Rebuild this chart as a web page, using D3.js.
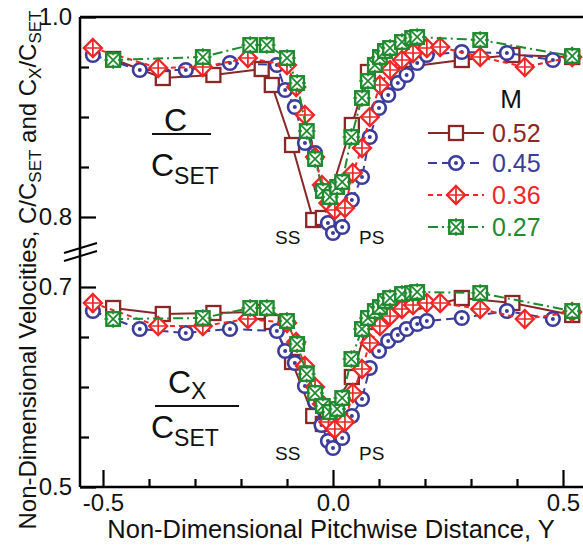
<!DOCTYPE html>
<html>
<head>
<meta charset="utf-8">
<script src="https://cdn.jsdelivr.net/npm/d3@7"></script>
<style>
  body { margin: 0; background: #fff; }
  svg { display: block; }
  text { font-family: "Liberation Sans", Arial, sans-serif; }
</style>
</head>
<body>
<svg id="chart" width="583" height="548"></svg>
<script>
// Pitchwise traverse: positions Y and velocity ratios C/C_SET (upper) and Cx/C_SET (lower)
const pitch052 = [-0.478, -0.37, -0.26, -0.155, -0.133, -0.089, -0.043, -0.022, 0.041, 0.076, 0.28, 0.39, 0.52];
const c052     = [0.958, 0.939, 0.942, 0.948, 0.932, 0.872, 0.797, 0.799, 0.892, 0.945, 0.957, 0.962, 0.96];
const cx052    = [0.679, 0.673, 0.674, 0.675, 0.665, 0.625, 0.571, 0.563, 0.61, 0.665, 0.689, 0.684, 0.672];

const pitch045 = [-0.522, -0.42, -0.32, -0.224, -0.122, -0.104, -0.083, -0.061, -0.039, -0.025, -0.011, 0.0, 0.02, 0.041, 0.063, 0.08, 0.1, 0.12, 0.141, 0.16, 0.183, 0.204, 0.28, 0.378, 0.478];
const c045     = [0.962, 0.947, 0.947, 0.954, 0.952, 0.927, 0.91, 0.874, 0.864, 0.83, 0.794, 0.784, 0.79, 0.817, 0.84, 0.88, 0.909, 0.922, 0.934, 0.942, 0.954, 0.962, 0.965, 0.964, 0.957];
const cx045    = [0.676, 0.658, 0.654, 0.658, 0.656, 0.636, 0.624, 0.601, 0.585, 0.562, 0.546, 0.539, 0.549, 0.571, 0.588, 0.619, 0.636, 0.646, 0.652, 0.658, 0.663, 0.666, 0.669, 0.676, 0.668];

const pitch036 = [-0.522, -0.38, -0.283, -0.185, -0.1, -0.08, -0.061, -0.039, -0.024, -0.01, 0.004, 0.026, 0.043, 0.063, 0.08, 0.102, 0.124, 0.15, 0.174, 0.204, 0.233, 0.32, 0.417, 0.52];
const c036     = [0.969, 0.949, 0.95, 0.959, 0.952, 0.93, 0.902, 0.86, 0.832, 0.814, 0.807, 0.809, 0.844, 0.869, 0.9, 0.932, 0.947, 0.957, 0.964, 0.969, 0.97, 0.96, 0.95, 0.96];
const cx036    = [0.684, 0.661, 0.661, 0.668, 0.664, 0.645, 0.621, 0.6, 0.583, 0.565, 0.558, 0.565, 0.594, 0.618, 0.644, 0.661, 0.671, 0.678, 0.682, 0.684, 0.684, 0.678, 0.668, 0.675];

const pitch027 = [-0.478, -0.283, -0.18, -0.144, -0.1, -0.078, -0.057, -0.039, -0.022, -0.007, 0.009, 0.02, 0.04, 0.063, 0.076, 0.091, 0.102, 0.113, 0.124, 0.15, 0.172, 0.183, 0.32, 0.52];
const c027     = [0.957, 0.96, 0.972, 0.972, 0.959, 0.934, 0.886, 0.858, 0.826, 0.82, 0.83, 0.835, 0.88, 0.919, 0.936, 0.952, 0.96, 0.966, 0.969, 0.975, 0.979, 0.98, 0.977, 0.961];
const cx027    = [0.668, 0.669, 0.679, 0.679, 0.666, 0.643, 0.613, 0.594, 0.581, 0.575, 0.578, 0.589, 0.628, 0.658, 0.669, 0.676, 0.68, 0.686, 0.689, 0.693, 0.694, 0.695, 0.694, 0.676];

const machLabels = ["0.52", "0.45", "0.36", "0.27"];

const xTicksMajor = [-0.5, 0.0, 0.5];
const xTicksMinor = [-0.4, -0.3, -0.2, -0.1, 0.1, 0.2, 0.3, 0.4];
const yTopMajor = [0.8, 1.0];
const yTopMinor = [0.85, 0.9, 0.95];
const yBotMajor = [0.5, 0.7];
const yBotMinor = [0.55, 0.6, 0.65];

const series = [
  { label: machLabels[0], xs: pitch052, c: c052, cx: cx052, color: "#8B2626", dash: null,        marker: "square"  },
  { label: machLabels[1], xs: pitch045, c: c045, cx: cx045, color: "#3B3B9C", dash: "9,5",       marker: "circle"  },
  { label: machLabels[2], xs: pitch036, c: c036, cx: cx036, color: "#EE2626", dash: "5,4",       marker: "diamond" },
  { label: machLabels[3], xs: pitch027, c: c027, cx: cx027, color: "#1F8A2E", dash: "10,4,2,4",  marker: "xbox"    }
];

const svg = d3.select("#chart");
const plotLeft = 80, plotRight = 586, plotTop = 17, plotBottom = 487;

const x = d3.scaleLinear().domain([-0.55, 0.55]).range([plotLeft, plotRight]);
const yTop = d3.scaleLinear().domain([0.78, 1.0]).range([237, plotTop]);
const yBot = d3.scaleLinear().domain([0.5, 0.72]).range([plotBottom, 267]);

// ---- markers ----
function drawMarker(g, type, color) {
  const sw = 2.3;
  if (type === "square") {
    g.append("rect").attr("x", -7).attr("y", -7).attr("width", 14).attr("height", 14)
      .attr("fill", "#fff").attr("stroke", color).attr("stroke-width", sw);
  } else if (type === "circle") {
    g.append("circle").attr("r", 6.8).attr("fill", "#fff").attr("stroke", color).attr("stroke-width", 2.6);
    g.append("circle").attr("r", 2).attr("fill", color);
  } else if (type === "diamond") {
    const s = 9;
    g.append("path").attr("d", `M0,${-s}L${s},0L0,${s}L${-s},0Z`)
      .attr("fill", "#fff").attr("stroke", color).attr("stroke-width", sw);
    g.append("path").attr("d", `M0,${-s}V${s}M${-s},0H${s}`)
      .attr("stroke", color).attr("stroke-width", 1.7);
  } else if (type === "xbox") {
    const s = 6.8;
    g.append("rect").attr("x", -s).attr("y", -s).attr("width", 2 * s).attr("height", 2 * s)
      .attr("fill", "#fff").attr("stroke", color).attr("stroke-width", sw);
    g.append("path").attr("d", `M${-s},${-s}L${s},${s}M${s},${-s}L${-s},${s}M0,${-s - 2}V${-s + 2}M0,${s - 2}V${s + 2}M${-s - 2},0H${-s + 2}M${s - 2},0H${s + 2}`)
      .attr("stroke", color).attr("stroke-width", 1.7);
  }
}

// ---- series (lines then markers, per panel) ----
const panels = [{ key: "c", y: yTop }, { key: "cx", y: yBot }];
series.forEach(s => {
  panels.forEach(p => {
    const pts = s.xs.map((v, i) => [v, s[p.key][i]]);
    const line = d3.line().x(d => x(d[0])).y(d => p.y(d[1]));
    svg.append("path").datum(pts).attr("d", line)
      .attr("fill", "none").attr("stroke", s.color).attr("stroke-width", 2)
      .attr("stroke-dasharray", s.dash);
    svg.append("g").selectAll("g").data(pts).join("g")
      .attr("transform", d => `translate(${x(d[0])},${p.y(d[1])})`)
      .each(function () { drawMarker(d3.select(this), s.marker, s.color); });
  });
});

// ---- axes ----
const fmt = d => d.toFixed(1);
function styleAxis(g, fs) {
  g.select(".domain").remove();
  g.selectAll("line").attr("stroke", "#000").attr("stroke-width", 2.2);
  g.selectAll("text").attr("font-size", fs).attr("fill", "#111")
    .style("font-family", '"Liberation Sans", Arial, sans-serif');
}
svg.append("g").attr("transform", `translate(${plotLeft},0)`)
  .call(d3.axisLeft(yTop).tickValues(yTopMajor).tickSize(-16).tickPadding(8).tickFormat(fmt))
  .call(g => styleAxis(g, 24));
svg.append("g").attr("transform", `translate(${plotLeft},0)`)
  .call(d3.axisLeft(yTop).tickValues(yTopMinor).tickSize(-9).tickFormat(""))
  .call(g => styleAxis(g, 24));
svg.append("g").attr("transform", `translate(${plotLeft},0)`)
  .call(d3.axisLeft(yBot).tickValues(yBotMajor).tickSize(-16).tickPadding(8).tickFormat(fmt))
  .call(g => styleAxis(g, 24));
svg.append("g").attr("transform", `translate(${plotLeft},0)`)
  .call(d3.axisLeft(yBot).tickValues(yBotMinor).tickSize(-9).tickFormat(""))
  .call(g => styleAxis(g, 24));
svg.append("g").attr("transform", `translate(0,${plotBottom})`)
  .call(d3.axisBottom(x).tickValues(xTicksMajor).tickSize(-17).tickPadding(7).tickFormat(fmt))
  .call(g => styleAxis(g, 24));
svg.append("g").attr("transform", `translate(0,${plotBottom})`)
  .call(d3.axisBottom(x).tickValues(xTicksMinor).tickSize(-8).tickFormat(""))
  .call(g => styleAxis(g, 24));

// frame lines
svg.append("path").attr("d", `M${plotLeft},${plotTop}H${plotRight}M${plotLeft},${plotTop}V${plotBottom}M${plotLeft},${plotBottom}H${plotRight}`)
  .attr("fill", "none").attr("stroke", "#000").attr("stroke-width", 2.5);

// axis break marks
svg.append("path").attr("d", "M64,253L97,243M64,261L97,251")
  .attr("stroke", "#000").attr("stroke-width", 2);

// ---- titles ----
svg.append("text").attr("x", 331).attr("y", 538).attr("text-anchor", "middle")
  .attr("font-size", 25.5).attr("fill", "#111").text("Non-Dimensional Pitchwise Distance, Y");

const yt = svg.append("text").attr("transform", "translate(36,270) rotate(-90)")
  .attr("text-anchor", "middle").attr("font-size", 24).attr("fill", "#111");
yt.append("tspan").text("Non-Dimensional Velocities, C/C");
yt.append("tspan").attr("font-size", 17).attr("dy", 5).text("SET");
yt.append("tspan").attr("dy", -5).text(" and C");
yt.append("tspan").attr("font-size", 17).attr("dy", 5).text("X");
yt.append("tspan").attr("dy", -5).text("/C");
yt.append("tspan").attr("font-size", 17).attr("dy", 5).text("SET");

// fraction labels inside the panels
function fraction(numX, numBase, lineX1, lineX2, lineY, denBase, numSub) {
  const n = svg.append("text").attr("x", numX).attr("y", numBase).attr("font-size", 32).attr("fill", "#111");
  n.append("tspan").text("C");
  if (numSub) n.append("tspan").attr("font-size", 23).attr("dy", 6).text(numSub);
  svg.append("line").attr("x1", lineX1).attr("x2", lineX2).attr("y1", lineY).attr("y2", lineY)
    .attr("stroke", "#111").attr("stroke-width", 2);
  const d = svg.append("text").attr("x", 151).attr("y", denBase).attr("font-size", 32).attr("fill", "#111");
  d.append("tspan").text("C");
  d.append("tspan").attr("font-size", 23).attr("dy", 8).text("SET");
}
fraction(164, 131, 152, 211, 134, 176, null);
fraction(168, 393, 155, 239, 406, 438, "X");

// suction / pressure side labels
[[244], [460]].forEach(([yb]) => {
  svg.append("text").attr("x", 275).attr("y", yb).attr("font-size", 19).attr("fill", "#111").text("SS");
  svg.append("text").attr("x", 359).attr("y", yb).attr("font-size", 19).attr("fill", "#111").text("PS");
});

// ---- legend ----
svg.append("text").attr("x", 511).attr("y", 108).attr("text-anchor", "middle")
  .attr("font-size", 26).attr("fill", "#111").text("M");
const rowY = [133, 163, 195, 227];
series.forEach((s, i) => {
  const g = svg.append("g").attr("transform", `translate(0,${rowY[i]})`);
  g.append("line").attr("x1", 428).attr("x2", 484).attr("y1", 0).attr("y2", 0)
    .attr("stroke", s.color).attr("stroke-width", 2).attr("stroke-dasharray", s.dash);
  drawMarker(g.append("g").attr("transform", "translate(456,0)"), s.marker, s.color);
  g.append("text").attr("x", 492).attr("y", 9).attr("font-size", 25).attr("fill", s.color).text(s.label);
});
</script>
</body>
</html>
